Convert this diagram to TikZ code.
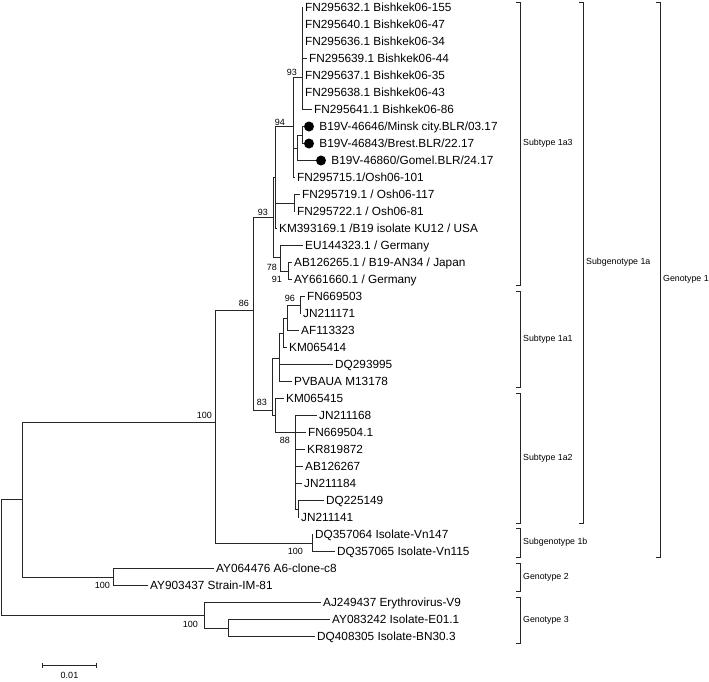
\documentclass[tikz,border=0pt]{standalone}
\usepackage{fontspec}
\setmainfont{Liberation Sans}
\usetikzlibrary{positioning,arrows.meta}

\begin{document}
\begin{tikzpicture}[x=1pt, y=-1pt,
    branch/.style={line width=0.75pt, black!85},
    leaf/.style={anchor=west, inner xsep=2pt, inner ysep=0pt, font=\fontsize{11.8}{13}\selectfont, text height=8.4pt, text depth=0pt},
    boot/.style={anchor=east, inner sep=0pt, font=\fontsize{9}{10}\selectfont, text height=6.4pt, text depth=0pt},
    dot/.style={circle, fill=black, inner sep=0pt, minimum size=10pt},
    clade/.style={anchor=west, inner sep=0pt, font=\fontsize{8.8}{10}\selectfont}]

\useasboundingbox (0,0) rectangle (709,681);

% Internal nodes of the tree
\coordinate (r) at (1,499);      % root
\coordinate (nA) at (22,499);
\coordinate (nG1) at (215,422);  % genotype 1
\coordinate (nG2) at (113,577);  % genotype 2
\coordinate (nG3) at (204,615.5);% genotype 3
\coordinate (nG3b) at (228,628);
\coordinate (n1a) at (253,310);
\coordinate (n1b) at (312,543);
\coordinate (n93) at (273,217.5);
\coordinate (nX) at (275,177.5);
\coordinate (n94) at (293,126.5);
\coordinate (nB) at (302,77);    % Bishkek group
\coordinate (nBLR) at (297,148); % Belarus group
\coordinate (nM) at (302,135);
\coordinate (nOsh) at (294,203);
\coordinate (n78) at (280,257.5);
\coordinate (nAB) at (288,271);
\coordinate (n83) at (272,410);
\coordinate (nS) at (279,358);
\coordinate (nR) at (283,333.5);
\coordinate (nQ) at (287,318.5);
\coordinate (nP) at (300,305.5);
\coordinate (nT) at (275,415);
\coordinate (nU) at (295,432);
\coordinate (nV) at (298,509.5);

% Leaves (subtype 1a3)
\node[leaf] (l1) at (303,7.5) {FN295632.1 Bishkek06-155};
\node[leaf] (l2) at (303,24.5) {FN295640.1 Bishkek06-47};
\node[leaf] (l3) at (303,41.5) {FN295636.1 Bishkek06-34};
\node[leaf] (l4) at (307,58.5) {FN295639.1 Bishkek06-44};
\node[leaf] (l5) at (303,75.5) {FN295637.1 Bishkek06-35};
\node[leaf] (l6) at (303,92.5) {FN295638.1 Bishkek06-43};
\node[leaf] (l7) at (312,109.5) {FN295641.1 Bishkek06-86};
\node[dot] (d8) at (309,126.5) {};
\node[leaf, right=3pt of d8] (l8) {B19V-46646/Minsk city.BLR/03.17};
\node[dot] (d9) at (309,143.5) {};
\node[leaf, right=3pt of d9] (l9) {B19V-46843/Brest.BLR/22.17};
\node[dot] (d10) at (321,160.5) {};
\node[leaf, right=3pt of d10] (l10) {B19V-46860/Gomel.BLR/24.17};
\node[leaf] (l11) at (295,177.5) {FN295715.1/Osh06-101};
\node[leaf] (l12) at (300,194.5) {FN295719.1 / Osh06-117};
\node[leaf] (l13) at (295,211.5) {FN295722.1 / Osh06-81};
\node[leaf] (l14) at (277,228.5) {KM393169.1 /B19 isolate KU12 / USA};
\node[leaf] (l15) at (303,245.5) {EU144323.1 / Germany};
\node[leaf] (l16) at (292,262.5) {AB126265.1 / B19-AN34 / Japan};
\node[leaf] (l17) at (292,279.5) {AY661660.1 / Germany};
% Leaves (subtype 1a1)
\node[leaf] (l18) at (305,296.5) {FN669503};
\node[leaf] (l19) at (301,313.5) {JN211171};
\node[leaf] (l20) at (299,330.5) {AF113323};
\node[leaf] (l21) at (287,347.5) {KM065414};
\node[leaf] (l22) at (333,364.5) {DQ293995};
\node[leaf] (l23) at (292,381.5) {PVBAUA M13178};
% Leaves (subtype 1a2)
\node[leaf] (l24) at (284,398.5) {KM065415};
\node[leaf] (l25) at (317,415.5) {JN211168};
\node[leaf] (l26) at (306,432.5) {FN669504.1};
\node[leaf] (l27) at (305,449.5) {KR819872};
\node[leaf] (l28) at (303,466.5) {AB126267};
\node[leaf] (l29) at (302,483.5) {JN211184};
\node[leaf] (l30) at (324,500.5) {DQ225149};
\node[leaf] (l31) at (299,517.5) {JN211141};
% Leaves (subgenotype 1b, genotypes 2 and 3)
\node[leaf] (l32) at (313,534.5) {DQ357064 Isolate-Vn147};
\node[leaf] (l33) at (335,551.5) {DQ357065 Isolate-Vn115};
\node[leaf] (l34) at (214,568.5) {AY064476 A6-clone-c8};
\node[leaf] (l35) at (148,585.5) {AY903437 Strain-IM-81};
\node[leaf] (l36) at (321,602.5) {AJ249437 Erythrovirus-V9};
\node[leaf] (l37) at (330,619.5) {AY083242 Isolate-E01.1};
\node[leaf] (l38) at (315,636.5) {DQ408305 Isolate-BN30.3};

% Branches (parent/child)
\foreach \p/\c in {r/nA, r/nG3, nA/nG1, nA/nG2, nG1/n1a, nG1/n1b,
    n1a/n93, n1a/n83, n93/nX, n93/n78, nX/n94, nX/nOsh, nX/l14,
    n94/nB, n94/nBLR, n94/l11, nB/l1, nB/l2, nB/l3, nB/l4, nB/l5, nB/l6, nB/l7,
    nBLR/nM, nBLR/d10, nM/d8, nM/d9, nOsh/l12, nOsh/l13,
    n78/l15, n78/nAB, nAB/l16, nAB/l17,
    n83/nS, n83/nT, nS/nR, nS/l22, nS/l23, nR/nQ, nR/l21, nQ/nP, nQ/l20, nP/l18, nP/l19,
    nT/l24, nT/nU, nU/l25, nU/l26, nU/l27, nU/l28, nU/l29, nU/nV, nV/l30, nV/l31,
    n1b/l32, n1b/l33, nG2/l34, nG2/l35, nG3/l36, nG3/nG3b, nG3b/l37, nG3b/l38} {
    \draw[branch] (\p) |- (\c);
}

% Bootstrap values
\node[boot] (b1) at (297,72) {93};
\node[boot] (b2) at (285,122) {94};
\node[boot] (b3) at (268,212) {93};
\node[boot] (b4) at (277,267) {78};
\node[boot] (b5) at (282,279) {91};
\node[boot] (b6) at (249,303) {86};
\node[boot] (b7) at (295,298) {96};
\node[boot] (b8) at (267,402) {83};
\node[boot] (b9) at (290,440) {88};
\node[boot] (b10) at (212,415) {100};
\node[boot] (b11) at (303,551) {100};
\node[boot] (b12) at (110,585) {100};
\node[boot] (b13) at (198,624) {100};

% Clade brackets
\foreach \n/\x/\t/\b/\txt in {c1a3/520/2/285/Subtype 1a3, c1a1/520/291/387/Subtype 1a1,
    c1a2/520/393/523/Subtype 1a2, c1b/520/528/557/Subgenotype 1b,
    cg2/520/563/591/Genotype 2, cg3/520/597/643/Genotype 3,
    c1a/583/2/523/Subgenotype 1a, cg1/660/2/557/Genotype 1} {
    \draw[branch] (\x-4,\t) -- (\x,\t) -- (\x,\b) -- (\x-4,\b); % bracket
    \node[clade] (\n) at (\x+3,{(\t+\b)/2}) {\txt};
}

% Scale bar
\coordinate (s0) at (42,665);
\coordinate (s1) at (97,665);
\draw[branch, {Bar[width=5pt]}-{Bar[width=5pt]}] (s0) -- (s1);
\node[boot, anchor=north] (sl) at (69.5,672) {0.01};

\end{tikzpicture}
\end{document}
